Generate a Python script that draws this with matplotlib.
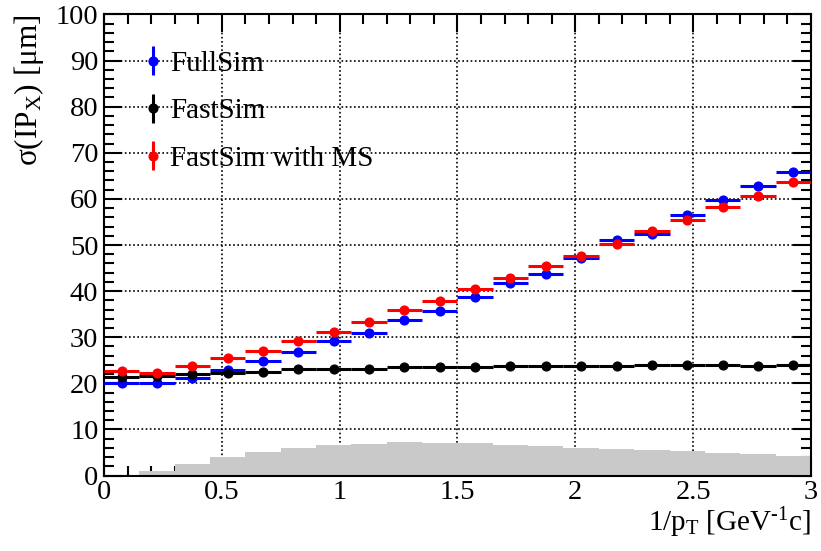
import matplotlib
matplotlib.use("Agg")
import matplotlib.pyplot as plt
import numpy as np

plt.rcParams['font.family'] = ['Liberation Serif', 'DejaVu Serif']
plt.rcParams['mathtext.fontset'] = 'custom'
plt.rcParams['mathtext.rm'] = 'Liberation Serif'
plt.rcParams['mathtext.it'] = 'Liberation Serif:italic'

# 20 bins in 1/pT, width 0.15
edges = np.linspace(0, 3, 21)
centers = 0.5 * (edges[:-1] + edges[1:])
half_w = 0.5 * (edges[1] - edges[0])

fullsim = [20.0, 20.1, 21.2, 22.9, 24.8, 26.7, 29.1, 31.0, 33.7, 35.6,
           38.7, 41.8, 43.8, 47.2, 51.0, 52.4, 56.6, 59.7, 62.9, 65.8]
fastsim = [21.3, 21.6, 22.0, 22.3, 22.5, 23.0, 23.1, 23.2, 23.5, 23.6,
           23.6, 23.7, 23.7, 23.7, 23.7, 23.9, 24.0, 23.9, 23.8, 24.0]
fastsim_ms = [22.6, 22.3, 23.8, 25.4, 27.0, 29.2, 31.2, 33.3, 35.8, 37.9,
              40.5, 42.8, 45.4, 47.6, 50.3, 53.1, 55.5, 58.3, 60.7, 63.7]
# track distribution (arbitrary scale)
hist = [0.2, 1.0, 2.4, 4.1, 5.2, 6.0, 6.6, 6.9, 7.2, 7.1,
        7.1, 6.7, 6.4, 6.0, 5.75, 5.5, 5.25, 4.95, 4.65, 4.2]

fig = plt.figure(figsize=(8.21, 5.51), dpi=100)
ax = fig.add_axes([0.1267, 0.137, 0.861, 0.8367])

ax.stairs(hist, edges, fill=True, color='#c8c9c8', zorder=1)

series = [(fullsim, 'blue', 'FullSim'),
          (fastsim, 'black', 'FastSim'),
          (fastsim_ms, 'red', 'FastSim with MS')]
for vals, col, lab in series:
    ax.errorbar(centers, vals, xerr=half_w, fmt='o', color=col, ms=6.3,
                elinewidth=2.2, capsize=0, zorder=3)
    # legend proxy: dot with vertical bar
    ax.errorbar([np.nan], [np.nan], yerr=[1], fmt='o', color=col, ms=6.3,
                elinewidth=2.2, capsize=0, label=lab)

ax.set_xlim(0, 3)
ax.set_ylim(0, 100)
ax.set_xticks(np.arange(0, 3.01, 0.5))
ax.set_xticklabels(['0', '0.5', '1', '1.5', '2', '2.5', '3'])
ax.set_xticks(np.arange(0, 3.01, 0.1), minor=True)
ax.set_yticks(np.arange(0, 101, 10))
ax.set_yticks(np.arange(0, 101, 2), minor=True)

ax.set_axisbelow(True)
ax.grid(True, which='major', color='black', linestyle=(0, (1, 1.5)),
        linewidth=1.2)
ax.tick_params(which='both', direction='in', top=True, right=True,
               labelsize=20.5, width=1.5)
ax.tick_params(which='major', length=13)
ax.tick_params(which='minor', length=7)
ax.tick_params(axis='x', pad=3)
ax.tick_params(axis='y', pad=4)
for sp in ax.spines.values():
    sp.set_linewidth(1.5)

ax.set_xlabel(r'1/p$_{\rm T}$ [GeV$^{\text{-1}}$c]', fontsize=21, loc='right')
ax.xaxis.set_label_coords(1.0, -0.066)
ax.set_ylabel(r'σ(IP$_{\rm X}$) [μm]', fontsize=22.5, loc='top')
ax.yaxis.set_label_coords(-0.082, 1.0)

ax.legend(loc='upper left', bbox_to_anchor=(0.04, 0.947), frameon=False,
          fontsize=21, handlelength=0.6, handletextpad=0.3,
          labelspacing=0.72, borderaxespad=0)

fig.savefig('out.png', dpi=100)
